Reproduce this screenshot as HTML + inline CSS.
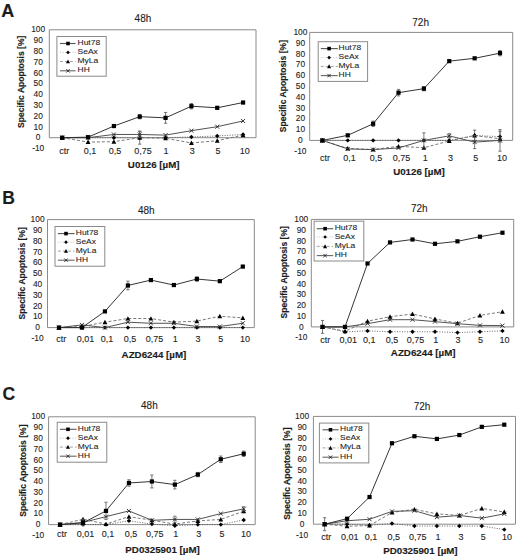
<!DOCTYPE html>
<html><head><meta charset="utf-8"><title>Figure</title>
<style>
html,body{margin:0;padding:0;background:#fff;}
body{width:520px;height:560px;overflow:hidden;}
svg{display:block;}
svg text{font-family:"Liberation Sans", sans-serif;fill:#1c1c1c;stroke:#1c1c1c;stroke-width:0.1px;}
svg text[font-weight=bold]{stroke-width:0.15px;}
</style></head>
<body>
<svg width="520" height="560" viewBox="0 0 520 560">
<rect width="520" height="560" fill="#fff"/>
<path d="M49.3 137.7V29.8H256V137.7" fill="none" stroke="#8a8a8a" stroke-width="1"/>
<path d="M49.3 137.7H256" stroke="#8a8a8a" stroke-width="1"/>
<text x="38.2" y="151.12" text-anchor="middle" font-size="8.4">-10</text>
<text x="38.2" y="140.33" text-anchor="middle" font-size="8.4">0</text>
<text x="38.2" y="129.54" text-anchor="middle" font-size="8.4">10</text>
<text x="38.2" y="118.75" text-anchor="middle" font-size="8.4">20</text>
<text x="38.2" y="107.96" text-anchor="middle" font-size="8.4">30</text>
<text x="38.2" y="97.17" text-anchor="middle" font-size="8.4">40</text>
<text x="38.2" y="86.38" text-anchor="middle" font-size="8.4">50</text>
<text x="38.2" y="75.59" text-anchor="middle" font-size="8.4">60</text>
<text x="38.2" y="64.8" text-anchor="middle" font-size="8.4">70</text>
<text x="38.2" y="54.01" text-anchor="middle" font-size="8.4">80</text>
<text x="38.2" y="43.22" text-anchor="middle" font-size="8.4">90</text>
<text x="38.2" y="32.43" text-anchor="middle" font-size="8.4">100</text>
<text transform="translate(24.2 81.8) rotate(-90)" text-anchor="middle" font-size="8.55" font-weight="bold">Specific Apoptosis [%]</text>
<text x="64.2" y="153.94" text-anchor="middle" font-size="9.0">ctr</text>
<text x="90" y="153.94" text-anchor="middle" font-size="9.0">0,1</text>
<text x="115.1" y="153.94" text-anchor="middle" font-size="9.0">0,5</text>
<text x="142.9" y="153.94" text-anchor="middle" font-size="9.0">0,75</text>
<text x="166.1" y="153.94" text-anchor="middle" font-size="9.0">1</text>
<text x="192.2" y="153.94" text-anchor="middle" font-size="9.0">3</text>
<text x="217.9" y="153.94" text-anchor="middle" font-size="9.0">5</text>
<text x="244.75" y="153.94" text-anchor="middle" font-size="9.0">10</text>
<text x="153.7" y="167.7" text-anchor="middle" font-size="9.75" font-weight="bold">U0126 [µM]</text>
<text x="142.95" y="22.3" text-anchor="middle" font-size="10.0">48h</text>
<polyline points="62.22,137.7 88.06,137.7 113.89,137.7 139.73,137.7 165.57,137.7 191.41,136.94 217.24,135.97 243.08,134.46" fill="none" stroke="#555" stroke-width="0.9" stroke-dasharray="1 1.5"/>
<path d="M62.22 135.5L64.42 137.7L62.22 139.9L60.02 137.7Z" fill="#000"/>
<path d="M88.06 135.5L90.26 137.7L88.06 139.9L85.86 137.7Z" fill="#000"/>
<path d="M113.89 135.5L116.09 137.7L113.89 139.9L111.69 137.7Z" fill="#000"/>
<path d="M139.73 135.5L141.93 137.7L139.73 139.9L137.53 137.7Z" fill="#000"/>
<path d="M165.57 135.5L167.77 137.7L165.57 139.9L163.37 137.7Z" fill="#000"/>
<path d="M191.41 134.74L193.61 136.94L191.41 139.14L189.21 136.94Z" fill="#000"/>
<path d="M217.24 133.77L219.44 135.97L217.24 138.17L215.04 135.97Z" fill="#000"/>
<path d="M243.08 132.26L245.28 134.46L243.08 136.66L240.88 134.46Z" fill="#000"/>
<polyline points="62.22,137.7 88.06,142.02 113.89,141.69 139.73,137.7 165.57,138.24 191.41,142.99 217.24,140.72 243.08,135.11" fill="none" stroke="#6a6a6a" stroke-width="0.9" stroke-dasharray="3 2"/>
<path d="M139.73 131.23V144.17M138.13 131.23H141.33M138.13 144.17H141.33" stroke="#555" stroke-width="0.8" fill="none"/>
<path d="M62.22 135.3L64.62 139.74L59.82 139.74Z" fill="#000"/>
<path d="M88.06 139.62L90.46 144.06L85.66 144.06Z" fill="#000"/>
<path d="M113.89 139.29L116.29 143.73L111.49 143.73Z" fill="#000"/>
<path d="M139.73 135.3L142.13 139.74L137.33 139.74Z" fill="#000"/>
<path d="M165.57 135.84L167.97 140.28L163.17 140.28Z" fill="#000"/>
<path d="M191.41 140.59L193.81 145.03L189.01 145.03Z" fill="#000"/>
<path d="M217.24 138.32L219.64 142.76L214.84 142.76Z" fill="#000"/>
<path d="M243.08 132.71L245.48 137.15L240.68 137.15Z" fill="#000"/>
<polyline points="62.22,137.7 88.06,137.7 113.89,134.46 139.73,134.46 165.57,135.11 191.41,130.69 217.24,126.69 243.08,120.98" fill="none" stroke="#4a4a4a" stroke-width="0.95"/>
<path d="M139.73 131.23V137.7M138.13 131.23H141.33M138.13 137.7H141.33" stroke="#555" stroke-width="0.8" fill="none"/>
<path d="M60.22 135.7L64.22 139.7M64.22 135.7L60.22 139.7" stroke="#222" stroke-width="0.9"/>
<path d="M86.06 135.7L90.06 139.7M90.06 135.7L86.06 139.7" stroke="#222" stroke-width="0.9"/>
<path d="M111.89 132.46L115.89 136.46M115.89 132.46L111.89 136.46" stroke="#222" stroke-width="0.9"/>
<path d="M137.73 132.46L141.73 136.46M141.73 132.46L137.73 136.46" stroke="#222" stroke-width="0.9"/>
<path d="M163.57 133.11L167.57 137.11M167.57 133.11L163.57 137.11" stroke="#222" stroke-width="0.9"/>
<path d="M189.41 128.69L193.41 132.69M193.41 128.69L189.41 132.69" stroke="#222" stroke-width="0.9"/>
<path d="M215.24 124.69L219.24 128.69M219.24 124.69L215.24 128.69" stroke="#222" stroke-width="0.9"/>
<path d="M241.08 118.98L245.08 122.98M245.08 118.98L241.08 122.98" stroke="#222" stroke-width="0.9"/>
<polyline points="62.22,137.7 88.06,137.16 113.89,126.05 139.73,116.66 165.57,117.85 191.41,106.19 217.24,107.81 243.08,102.52" fill="none" stroke="#2a2a2a" stroke-width="0.95"/>
<path d="M139.73 114.5V118.82M138.13 114.5H141.33M138.13 118.82H141.33" stroke="#555" stroke-width="0.8" fill="none"/>
<path d="M165.57 112.45V123.24M163.97 112.45H167.17M163.97 123.24H167.17" stroke="#555" stroke-width="0.8" fill="none"/>
<path d="M191.41 103.5V108.89M189.81 103.5H193.01M189.81 108.89H193.01" stroke="#555" stroke-width="0.8" fill="none"/>
<path d="M217.24 106.73V108.89M215.64 106.73H218.84M215.64 108.89H218.84" stroke="#555" stroke-width="0.8" fill="none"/>
<path d="M243.08 101.45V103.6M241.48 101.45H244.68M241.48 103.6H244.68" stroke="#555" stroke-width="0.8" fill="none"/>
<rect x="60.12" y="135.6" width="4.2" height="4.2" fill="#000"/>
<rect x="85.96" y="135.06" width="4.2" height="4.2" fill="#000"/>
<rect x="111.79" y="123.95" width="4.2" height="4.2" fill="#000"/>
<rect x="137.63" y="114.56" width="4.2" height="4.2" fill="#000"/>
<rect x="163.47" y="115.75" width="4.2" height="4.2" fill="#000"/>
<rect x="189.31" y="104.09" width="4.2" height="4.2" fill="#000"/>
<rect x="215.14" y="105.71" width="4.2" height="4.2" fill="#000"/>
<rect x="240.98" y="100.42" width="4.2" height="4.2" fill="#000"/>
<rect x="56.9" y="36.5" width="49.3" height="39.7" fill="#fff" stroke="#8a8a8a" stroke-width="1"/>
<path d="M60 43.5H75.6" stroke="#555" stroke-width="1.1"/>
<rect x="66.22" y="41.72" width="3.57" height="3.57" fill="#000"/>
<text transform="translate(77.6 45.05) scale(1 0.9)" font-size="8.45">Hut78</text>
<path d="M60 52.4H75.6" stroke="#bbb" stroke-width="0.9" stroke-dasharray="1 1.5"/>
<path d="M68 50.53L69.87 52.4L68 54.27L66.13 52.4Z" fill="#000"/>
<text transform="translate(77.6 53.95) scale(1 0.9)" font-size="8.45">SeAx</text>
<path d="M60 61.5H75.6" stroke="#999" stroke-width="0.9" stroke-dasharray="3 2"/>
<path d="M68 59.46L70.04 63.23L65.96 63.23Z" fill="#000"/>
<text transform="translate(77.6 63.05) scale(1 0.9)" font-size="8.45">MyLa</text>
<path d="M60 70.8H75.6" stroke="#666" stroke-width="1.1"/>
<path d="M66.3 69.1L69.7 72.5M69.7 69.1L66.3 72.5" stroke="#222" stroke-width="0.9"/>
<text transform="translate(77.6 72.35) scale(1 0.9)" font-size="8.45">HH</text>
<path d="M309.7 140.4V32.4H512.7V140.4" fill="none" stroke="#8a8a8a" stroke-width="1"/>
<path d="M309.7 140.4H512.7" stroke="#8a8a8a" stroke-width="1"/>
<text x="300.4" y="153.83" text-anchor="middle" font-size="8.4">-10</text>
<text x="300.4" y="143.03" text-anchor="middle" font-size="8.4">0</text>
<text x="300.4" y="132.23" text-anchor="middle" font-size="8.4">10</text>
<text x="300.4" y="121.43" text-anchor="middle" font-size="8.4">20</text>
<text x="300.4" y="110.63" text-anchor="middle" font-size="8.4">30</text>
<text x="300.4" y="99.83" text-anchor="middle" font-size="8.4">40</text>
<text x="300.4" y="89.03" text-anchor="middle" font-size="8.4">50</text>
<text x="300.4" y="78.23" text-anchor="middle" font-size="8.4">60</text>
<text x="300.4" y="67.43" text-anchor="middle" font-size="8.4">70</text>
<text x="300.4" y="56.63" text-anchor="middle" font-size="8.4">80</text>
<text x="300.4" y="45.83" text-anchor="middle" font-size="8.4">90</text>
<text x="300.4" y="35.03" text-anchor="middle" font-size="8.4">100</text>
<text transform="translate(286.3 86.15) rotate(-90)" text-anchor="middle" font-size="8.55" font-weight="bold">Specific Apoptosis [%]</text>
<text x="325" y="161.14" text-anchor="middle" font-size="9.0">ctr</text>
<text x="349.6" y="161.14" text-anchor="middle" font-size="9.0">0,1</text>
<text x="376.1" y="161.14" text-anchor="middle" font-size="9.0">0,5</text>
<text x="401.4" y="161.14" text-anchor="middle" font-size="9.0">0,75</text>
<text x="425.2" y="161.14" text-anchor="middle" font-size="9.0">1</text>
<text x="450.6" y="161.14" text-anchor="middle" font-size="9.0">3</text>
<text x="475.8" y="161.14" text-anchor="middle" font-size="9.0">5</text>
<text x="502.1" y="161.14" text-anchor="middle" font-size="9.0">10</text>
<text x="419" y="175.4" text-anchor="middle" font-size="9.75" font-weight="bold">U0126 [µM]</text>
<text x="420.65" y="25.6" text-anchor="middle" font-size="10.0">72h</text>
<polyline points="322.39,140.4 347.76,140.4 373.14,140.4 398.51,140.4 423.89,140.4 449.26,140.4 474.64,135.54 500.01,136.62" fill="none" stroke="#555" stroke-width="0.9" stroke-dasharray="1 1.5"/>
<path d="M474.64 130.14V140.94M473.04 130.14H476.24M473.04 140.94H476.24" stroke="#555" stroke-width="0.8" fill="none"/>
<path d="M500.01 131.22V142.02M498.41 131.22H501.61M498.41 142.02H501.61" stroke="#555" stroke-width="0.8" fill="none"/>
<path d="M322.39 138.2L324.59 140.4L322.39 142.6L320.19 140.4Z" fill="#000"/>
<path d="M347.76 138.2L349.96 140.4L347.76 142.6L345.56 140.4Z" fill="#000"/>
<path d="M373.14 138.2L375.34 140.4L373.14 142.6L370.94 140.4Z" fill="#000"/>
<path d="M398.51 138.2L400.71 140.4L398.51 142.6L396.31 140.4Z" fill="#000"/>
<path d="M423.89 138.2L426.09 140.4L423.89 142.6L421.69 140.4Z" fill="#000"/>
<path d="M449.26 138.2L451.46 140.4L449.26 142.6L447.06 140.4Z" fill="#000"/>
<path d="M474.64 133.34L476.84 135.54L474.64 137.74L472.44 135.54Z" fill="#000"/>
<path d="M500.01 134.42L502.21 136.62L500.01 138.82L497.81 136.62Z" fill="#000"/>
<polyline points="322.39,140.4 347.76,148.5 373.14,149.58 398.51,146.34 423.89,147.74 449.26,140.94 474.64,135.54 500.01,138.78" fill="none" stroke="#6a6a6a" stroke-width="0.9" stroke-dasharray="3 2"/>
<path d="M322.39 138L324.79 142.44L319.99 142.44Z" fill="#000"/>
<path d="M347.76 146.1L350.16 150.54L345.36 150.54Z" fill="#000"/>
<path d="M373.14 147.18L375.54 151.62L370.74 151.62Z" fill="#000"/>
<path d="M398.51 143.94L400.91 148.38L396.11 148.38Z" fill="#000"/>
<path d="M423.89 145.34L426.29 149.78L421.49 149.78Z" fill="#000"/>
<path d="M449.26 138.54L451.66 142.98L446.86 142.98Z" fill="#000"/>
<path d="M474.64 133.14L477.04 137.58L472.24 137.58Z" fill="#000"/>
<path d="M500.01 136.38L502.41 140.82L497.61 140.82Z" fill="#000"/>
<polyline points="322.39,140.4 347.76,148.93 373.14,149.58 398.51,147.96 423.89,140.4 449.26,135.86 474.64,142.13 500.01,140.4" fill="none" stroke="#4a4a4a" stroke-width="0.95"/>
<path d="M423.89 132.84V147.96M422.29 132.84H425.49M422.29 147.96H425.49" stroke="#555" stroke-width="0.8" fill="none"/>
<path d="M449.26 133.7V138.02M447.66 133.7H450.86M447.66 138.02H450.86" stroke="#555" stroke-width="0.8" fill="none"/>
<path d="M474.64 135.65V148.61M473.04 135.65H476.24M473.04 148.61H476.24" stroke="#555" stroke-width="0.8" fill="none"/>
<path d="M500.01 129.6V151.2M498.41 129.6H501.61M498.41 151.2H501.61" stroke="#555" stroke-width="0.8" fill="none"/>
<path d="M320.39 138.4L324.39 142.4M324.39 138.4L320.39 142.4" stroke="#222" stroke-width="0.9"/>
<path d="M345.76 146.93L349.76 150.93M349.76 146.93L345.76 150.93" stroke="#222" stroke-width="0.9"/>
<path d="M371.14 147.58L375.14 151.58M375.14 147.58L371.14 151.58" stroke="#222" stroke-width="0.9"/>
<path d="M396.51 145.96L400.51 149.96M400.51 145.96L396.51 149.96" stroke="#222" stroke-width="0.9"/>
<path d="M421.89 138.4L425.89 142.4M425.89 138.4L421.89 142.4" stroke="#222" stroke-width="0.9"/>
<path d="M447.26 133.86L451.26 137.86M451.26 133.86L447.26 137.86" stroke="#222" stroke-width="0.9"/>
<path d="M472.64 140.13L476.64 144.13M476.64 140.13L472.64 144.13" stroke="#222" stroke-width="0.9"/>
<path d="M498.01 138.4L502.01 142.4M502.01 138.4L498.01 142.4" stroke="#222" stroke-width="0.9"/>
<polyline points="322.39,140.4 347.76,135.32 373.14,123.77 398.51,92.66 423.89,88.67 449.26,61.13 474.64,58.32 500.01,53.14" fill="none" stroke="#2a2a2a" stroke-width="0.95"/>
<path d="M373.14 121.07V126.47M371.54 121.07H374.74M371.54 126.47H374.74" stroke="#555" stroke-width="0.8" fill="none"/>
<path d="M398.51 89.42V95.9M396.91 89.42H400.11M396.91 95.9H400.11" stroke="#555" stroke-width="0.8" fill="none"/>
<path d="M423.89 86.51V90.83M422.29 86.51H425.49M422.29 90.83H425.49" stroke="#555" stroke-width="0.8" fill="none"/>
<path d="M500.01 50.44V55.84M498.41 50.44H501.61M498.41 55.84H501.61" stroke="#555" stroke-width="0.8" fill="none"/>
<rect x="320.29" y="138.3" width="4.2" height="4.2" fill="#000"/>
<rect x="345.66" y="133.22" width="4.2" height="4.2" fill="#000"/>
<rect x="371.04" y="121.67" width="4.2" height="4.2" fill="#000"/>
<rect x="396.41" y="90.56" width="4.2" height="4.2" fill="#000"/>
<rect x="421.79" y="86.57" width="4.2" height="4.2" fill="#000"/>
<rect x="447.16" y="59.03" width="4.2" height="4.2" fill="#000"/>
<rect x="472.54" y="56.22" width="4.2" height="4.2" fill="#000"/>
<rect x="497.91" y="51.04" width="4.2" height="4.2" fill="#000"/>
<rect x="318.2" y="41.7" width="49.4" height="39.7" fill="#fff" stroke="#8a8a8a" stroke-width="1"/>
<path d="M320.8 48.6H337.8" stroke="#555" stroke-width="1.1"/>
<rect x="327.31" y="46.82" width="3.57" height="3.57" fill="#000"/>
<text transform="translate(338.6 50.15) scale(1 0.9)" font-size="8.45">Hut78</text>
<path d="M320.8 57.6H337.8" stroke="#bbb" stroke-width="0.9" stroke-dasharray="1 1.5"/>
<path d="M329.1 55.73L330.97 57.6L329.1 59.47L327.23 57.6Z" fill="#000"/>
<text transform="translate(338.6 59.15) scale(1 0.9)" font-size="8.45">SeAx</text>
<path d="M320.8 66.4H337.8" stroke="#999" stroke-width="0.9" stroke-dasharray="3 2"/>
<path d="M329.1 64.36L331.14 68.13L327.06 68.13Z" fill="#000"/>
<text transform="translate(338.6 67.95) scale(1 0.9)" font-size="8.45">MyLa</text>
<path d="M320.8 75.6H337.8" stroke="#666" stroke-width="1.1"/>
<path d="M327.4 73.9L330.8 77.3M330.8 73.9L327.4 77.3" stroke="#222" stroke-width="0.9"/>
<text transform="translate(338.6 77.15) scale(1 0.9)" font-size="8.45">HH</text>
<path d="M47.5 327.6V219.6H254.3V327.6" fill="none" stroke="#8a8a8a" stroke-width="1"/>
<path d="M47.5 327.6H254.3" stroke="#8a8a8a" stroke-width="1"/>
<text x="37.6" y="341.03" text-anchor="middle" font-size="8.4">-10</text>
<text x="37.6" y="330.23" text-anchor="middle" font-size="8.4">0</text>
<text x="37.6" y="319.43" text-anchor="middle" font-size="8.4">10</text>
<text x="37.6" y="308.63" text-anchor="middle" font-size="8.4">20</text>
<text x="37.6" y="297.83" text-anchor="middle" font-size="8.4">30</text>
<text x="37.6" y="287.03" text-anchor="middle" font-size="8.4">40</text>
<text x="37.6" y="276.23" text-anchor="middle" font-size="8.4">50</text>
<text x="37.6" y="265.43" text-anchor="middle" font-size="8.4">60</text>
<text x="37.6" y="254.63" text-anchor="middle" font-size="8.4">70</text>
<text x="37.6" y="243.83" text-anchor="middle" font-size="8.4">80</text>
<text x="37.6" y="233.03" text-anchor="middle" font-size="8.4">90</text>
<text x="37.6" y="222.23" text-anchor="middle" font-size="8.4">100</text>
<text transform="translate(25.4 273.3) rotate(-90)" text-anchor="middle" font-size="8.55" font-weight="bold">Specific Apoptosis [%]</text>
<text x="61.2" y="341.74" text-anchor="middle" font-size="9.0">ctr</text>
<text x="85.4" y="341.74" text-anchor="middle" font-size="9.0">0,01</text>
<text x="106.9" y="341.74" text-anchor="middle" font-size="9.0">0,1</text>
<text x="130" y="341.74" text-anchor="middle" font-size="9.0">0,5</text>
<text x="154.4" y="341.74" text-anchor="middle" font-size="9.0">0,75</text>
<text x="175.2" y="341.74" text-anchor="middle" font-size="9.0">1</text>
<text x="198.1" y="341.74" text-anchor="middle" font-size="9.0">3</text>
<text x="220.8" y="341.74" text-anchor="middle" font-size="9.0">5</text>
<text x="245" y="341.74" text-anchor="middle" font-size="9.0">10</text>
<text x="153.95" y="357.8" text-anchor="middle" font-size="9.75" font-weight="bold">AZD6244 [µM]</text>
<text x="146.25" y="213.8" text-anchor="middle" font-size="10.0">48h</text>
<polyline points="58.99,327.6 81.97,327.6 104.94,327.6 127.92,327.6 150.9,327.6 173.88,327.6 196.86,327.6 219.83,327.6 242.81,327.6" fill="none" stroke="#555" stroke-width="0.9" stroke-dasharray="1 1.5"/>
<path d="M58.99 325.4L61.19 327.6L58.99 329.8L56.79 327.6Z" fill="#000"/>
<path d="M81.97 325.4L84.17 327.6L81.97 329.8L79.77 327.6Z" fill="#000"/>
<path d="M104.94 325.4L107.14 327.6L104.94 329.8L102.74 327.6Z" fill="#000"/>
<path d="M127.92 325.4L130.12 327.6L127.92 329.8L125.72 327.6Z" fill="#000"/>
<path d="M150.9 325.4L153.1 327.6L150.9 329.8L148.7 327.6Z" fill="#000"/>
<path d="M173.88 325.4L176.08 327.6L173.88 329.8L171.68 327.6Z" fill="#000"/>
<path d="M196.86 325.4L199.06 327.6L196.86 329.8L194.66 327.6Z" fill="#000"/>
<path d="M219.83 325.4L222.03 327.6L219.83 329.8L217.63 327.6Z" fill="#000"/>
<path d="M242.81 325.4L245.01 327.6L242.81 329.8L240.61 327.6Z" fill="#000"/>
<polyline points="58.99,327.6 81.97,326.52 104.94,322.2 127.92,318.53 150.9,318.53 173.88,322.2 196.86,321.12 219.83,316.26 242.81,317.88" fill="none" stroke="#6a6a6a" stroke-width="0.9" stroke-dasharray="3 2"/>
<path d="M58.99 325.2L61.39 329.64L56.59 329.64Z" fill="#000"/>
<path d="M81.97 324.12L84.37 328.56L79.57 328.56Z" fill="#000"/>
<path d="M104.94 319.8L107.34 324.24L102.54 324.24Z" fill="#000"/>
<path d="M127.92 316.13L130.32 320.57L125.52 320.57Z" fill="#000"/>
<path d="M150.9 316.13L153.3 320.57L148.5 320.57Z" fill="#000"/>
<path d="M173.88 319.8L176.28 324.24L171.48 324.24Z" fill="#000"/>
<path d="M196.86 318.72L199.26 323.16L194.46 323.16Z" fill="#000"/>
<path d="M219.83 313.86L222.23 318.3L217.43 318.3Z" fill="#000"/>
<path d="M242.81 315.48L245.21 319.92L240.41 319.92Z" fill="#000"/>
<polyline points="58.99,327.6 81.97,324.9 104.94,327.6 127.92,322.2 150.9,323.28 173.88,323.28 196.86,326.52 219.83,326.52 242.81,323.28" fill="none" stroke="#4a4a4a" stroke-width="0.95"/>
<path d="M56.99 325.6L60.99 329.6M60.99 325.6L56.99 329.6" stroke="#222" stroke-width="0.9"/>
<path d="M79.97 322.9L83.97 326.9M83.97 322.9L79.97 326.9" stroke="#222" stroke-width="0.9"/>
<path d="M102.94 325.6L106.94 329.6M106.94 325.6L102.94 329.6" stroke="#222" stroke-width="0.9"/>
<path d="M125.92 320.2L129.92 324.2M129.92 320.2L125.92 324.2" stroke="#222" stroke-width="0.9"/>
<path d="M148.9 321.28L152.9 325.28M152.9 321.28L148.9 325.28" stroke="#222" stroke-width="0.9"/>
<path d="M171.88 321.28L175.88 325.28M175.88 321.28L171.88 325.28" stroke="#222" stroke-width="0.9"/>
<path d="M194.86 324.52L198.86 328.52M198.86 324.52L194.86 328.52" stroke="#222" stroke-width="0.9"/>
<path d="M217.83 324.52L221.83 328.52M221.83 324.52L217.83 328.52" stroke="#222" stroke-width="0.9"/>
<path d="M240.81 321.28L244.81 325.28M244.81 321.28L240.81 325.28" stroke="#222" stroke-width="0.9"/>
<polyline points="58.99,327.6 81.97,327.6 104.94,311.4 127.92,285.48 150.9,280.08 173.88,285.05 196.86,279 219.83,281.16 242.81,266.58" fill="none" stroke="#2a2a2a" stroke-width="0.95"/>
<path d="M127.92 281.16V289.8M126.32 281.16H129.52M126.32 289.8H129.52" stroke="#555" stroke-width="0.8" fill="none"/>
<path d="M196.86 276.84V281.16M195.26 276.84H198.46M195.26 281.16H198.46" stroke="#555" stroke-width="0.8" fill="none"/>
<rect x="56.89" y="325.5" width="4.2" height="4.2" fill="#000"/>
<rect x="79.87" y="325.5" width="4.2" height="4.2" fill="#000"/>
<rect x="102.84" y="309.3" width="4.2" height="4.2" fill="#000"/>
<rect x="125.82" y="283.38" width="4.2" height="4.2" fill="#000"/>
<rect x="148.8" y="277.98" width="4.2" height="4.2" fill="#000"/>
<rect x="171.78" y="282.95" width="4.2" height="4.2" fill="#000"/>
<rect x="194.76" y="276.9" width="4.2" height="4.2" fill="#000"/>
<rect x="217.73" y="279.06" width="4.2" height="4.2" fill="#000"/>
<rect x="240.71" y="264.48" width="4.2" height="4.2" fill="#000"/>
<rect x="55" y="226.5" width="49.8" height="39.7" fill="#fff" stroke="#8a8a8a" stroke-width="1"/>
<path d="M57.9 233.6H74.6" stroke="#555" stroke-width="1.1"/>
<rect x="64.22" y="231.81" width="3.57" height="3.57" fill="#000"/>
<text transform="translate(75.8 235.15) scale(1 0.9)" font-size="8.45">Hut78</text>
<path d="M57.9 242.2H74.6" stroke="#bbb" stroke-width="0.9" stroke-dasharray="1 1.5"/>
<path d="M66 240.33L67.87 242.2L66 244.07L64.13 242.2Z" fill="#000"/>
<text transform="translate(75.8 243.75) scale(1 0.9)" font-size="8.45">SeAx</text>
<path d="M57.9 251.1H74.6" stroke="#999" stroke-width="0.9" stroke-dasharray="3 2"/>
<path d="M66 249.06L68.04 252.83L63.96 252.83Z" fill="#000"/>
<text transform="translate(75.8 252.65) scale(1 0.9)" font-size="8.45">MyLa</text>
<path d="M57.9 260.2H74.6" stroke="#666" stroke-width="1.1"/>
<path d="M64.3 258.5L67.7 261.9M67.7 258.5L64.3 261.9" stroke="#222" stroke-width="0.9"/>
<text transform="translate(75.8 261.75) scale(1 0.9)" font-size="8.45">HH</text>
<path d="M311.3 326.9V219.4H513.7V326.9" fill="none" stroke="#8a8a8a" stroke-width="1"/>
<path d="M311.3 326.9H513.7" stroke="#8a8a8a" stroke-width="1"/>
<text x="301.3" y="340.28" text-anchor="middle" font-size="8.4">-10</text>
<text x="301.3" y="329.53" text-anchor="middle" font-size="8.4">0</text>
<text x="301.3" y="318.78" text-anchor="middle" font-size="8.4">10</text>
<text x="301.3" y="308.03" text-anchor="middle" font-size="8.4">20</text>
<text x="301.3" y="297.28" text-anchor="middle" font-size="8.4">30</text>
<text x="301.3" y="286.53" text-anchor="middle" font-size="8.4">40</text>
<text x="301.3" y="275.78" text-anchor="middle" font-size="8.4">50</text>
<text x="301.3" y="265.03" text-anchor="middle" font-size="8.4">60</text>
<text x="301.3" y="254.28" text-anchor="middle" font-size="8.4">70</text>
<text x="301.3" y="243.53" text-anchor="middle" font-size="8.4">80</text>
<text x="301.3" y="232.78" text-anchor="middle" font-size="8.4">90</text>
<text x="301.3" y="222.03" text-anchor="middle" font-size="8.4">100</text>
<text transform="translate(287 272.3) rotate(-90)" text-anchor="middle" font-size="8.55" font-weight="bold">Specific Apoptosis [%]</text>
<text x="325.2" y="342.84" text-anchor="middle" font-size="9.0">ctr</text>
<text x="348.2" y="342.84" text-anchor="middle" font-size="9.0">0,01</text>
<text x="369.3" y="342.84" text-anchor="middle" font-size="9.0">0,1</text>
<text x="392.1" y="342.84" text-anchor="middle" font-size="9.0">0,5</text>
<text x="415.4" y="342.84" text-anchor="middle" font-size="9.0">0,75</text>
<text x="435.8" y="342.84" text-anchor="middle" font-size="9.0">1</text>
<text x="458.1" y="342.84" text-anchor="middle" font-size="9.0">3</text>
<text x="480.6" y="342.84" text-anchor="middle" font-size="9.0">5</text>
<text x="504.4" y="342.84" text-anchor="middle" font-size="9.0">10</text>
<text x="423.2" y="356.1" text-anchor="middle" font-size="9.75" font-weight="bold">AZD6244 [µM]</text>
<text x="419.3" y="211.9" text-anchor="middle" font-size="10.0">72h</text>
<polyline points="322.54,326.9 345.03,331.84 367.52,330.88 390.01,331.74 412.5,331.74 434.99,331.74 457.48,332.6 479.97,331.74 502.46,330.88" fill="none" stroke="#555" stroke-width="0.9" stroke-dasharray="1 1.5"/>
<path d="M322.54 324.7L324.74 326.9L322.54 329.1L320.34 326.9Z" fill="#000"/>
<path d="M345.03 329.64L347.23 331.84L345.03 334.04L342.83 331.84Z" fill="#000"/>
<path d="M367.52 328.68L369.72 330.88L367.52 333.08L365.32 330.88Z" fill="#000"/>
<path d="M390.01 329.54L392.21 331.74L390.01 333.94L387.81 331.74Z" fill="#000"/>
<path d="M412.5 329.54L414.7 331.74L412.5 333.94L410.3 331.74Z" fill="#000"/>
<path d="M434.99 329.54L437.19 331.74L434.99 333.94L432.79 331.74Z" fill="#000"/>
<path d="M457.48 330.4L459.68 332.6L457.48 334.8L455.28 332.6Z" fill="#000"/>
<path d="M479.97 329.54L482.17 331.74L479.97 333.94L477.77 331.74Z" fill="#000"/>
<path d="M502.46 328.68L504.66 330.88L502.46 333.08L500.26 330.88Z" fill="#000"/>
<polyline points="322.54,326.9 345.03,331.2 367.52,321.2 390.01,316.69 412.5,314 434.99,318.94 457.48,323.25 479.97,315.4 502.46,311.74" fill="none" stroke="#6a6a6a" stroke-width="0.9" stroke-dasharray="3 2"/>
<path d="M322.54 324.5L324.94 328.94L320.14 328.94Z" fill="#000"/>
<path d="M345.03 328.8L347.43 333.24L342.63 333.24Z" fill="#000"/>
<path d="M367.52 318.8L369.92 323.24L365.12 323.24Z" fill="#000"/>
<path d="M390.01 314.29L392.41 318.73L387.61 318.73Z" fill="#000"/>
<path d="M412.5 311.6L414.9 316.04L410.1 316.04Z" fill="#000"/>
<path d="M434.99 316.55L437.39 320.99L432.59 320.99Z" fill="#000"/>
<path d="M457.48 320.85L459.88 325.29L455.08 325.29Z" fill="#000"/>
<path d="M479.97 313L482.37 317.44L477.57 317.44Z" fill="#000"/>
<path d="M502.46 309.34L504.86 313.78L500.06 313.78Z" fill="#000"/>
<polyline points="322.54,326.9 345.03,326.9 367.52,323.67 390.01,319.7 412.5,319.7 434.99,321.63 457.48,323.67 479.97,325.39 502.46,325.61" fill="none" stroke="#4a4a4a" stroke-width="0.95"/>
<path d="M320.54 324.9L324.54 328.9M324.54 324.9L320.54 328.9" stroke="#222" stroke-width="0.9"/>
<path d="M343.03 324.9L347.03 328.9M347.03 324.9L343.03 328.9" stroke="#222" stroke-width="0.9"/>
<path d="M365.52 321.67L369.52 325.67M369.52 321.67L365.52 325.67" stroke="#222" stroke-width="0.9"/>
<path d="M388.01 317.7L392.01 321.7M392.01 317.7L388.01 321.7" stroke="#222" stroke-width="0.9"/>
<path d="M410.5 317.7L414.5 321.7M414.5 317.7L410.5 321.7" stroke="#222" stroke-width="0.9"/>
<path d="M432.99 319.63L436.99 323.63M436.99 319.63L432.99 323.63" stroke="#222" stroke-width="0.9"/>
<path d="M455.48 321.67L459.48 325.67M459.48 321.67L455.48 325.67" stroke="#222" stroke-width="0.9"/>
<path d="M477.97 323.39L481.97 327.39M481.97 323.39L477.97 327.39" stroke="#222" stroke-width="0.9"/>
<path d="M500.46 323.61L504.46 327.61M504.46 323.61L500.46 327.61" stroke="#222" stroke-width="0.9"/>
<polyline points="322.54,326.9 345.03,326.9 367.52,263.48 390.01,242.41 412.5,239.5 434.99,243.8 457.48,241.33 479.97,236.71 502.46,232.73" fill="none" stroke="#2a2a2a" stroke-width="0.95"/>
<path d="M322.54 320.45V333.35M320.94 320.45H324.14M320.94 333.35H324.14" stroke="#555" stroke-width="0.8" fill="none"/>
<rect x="320.44" y="324.8" width="4.2" height="4.2" fill="#000"/>
<rect x="342.93" y="324.8" width="4.2" height="4.2" fill="#000"/>
<rect x="365.42" y="261.38" width="4.2" height="4.2" fill="#000"/>
<rect x="387.91" y="240.31" width="4.2" height="4.2" fill="#000"/>
<rect x="410.4" y="237.4" width="4.2" height="4.2" fill="#000"/>
<rect x="432.89" y="241.7" width="4.2" height="4.2" fill="#000"/>
<rect x="455.38" y="239.23" width="4.2" height="4.2" fill="#000"/>
<rect x="477.87" y="234.61" width="4.2" height="4.2" fill="#000"/>
<rect x="500.36" y="230.63" width="4.2" height="4.2" fill="#000"/>
<rect x="314.1" y="221.2" width="49.7" height="39.8" fill="#fff" stroke="#8a8a8a" stroke-width="1"/>
<path d="M316.7 228.7H333.2" stroke="#555" stroke-width="1.1"/>
<rect x="323.31" y="226.91" width="3.57" height="3.57" fill="#000"/>
<text transform="translate(334.7 230.25) scale(1 0.9)" font-size="8.45">Hut78</text>
<path d="M316.7 237H333.2" stroke="#bbb" stroke-width="0.9" stroke-dasharray="1 1.5"/>
<path d="M325.1 235.13L326.97 237L325.1 238.87L323.23 237Z" fill="#000"/>
<text transform="translate(334.7 238.55) scale(1 0.9)" font-size="8.45">SeAx</text>
<path d="M316.7 246.4H333.2" stroke="#999" stroke-width="0.9" stroke-dasharray="3 2"/>
<path d="M325.1 244.36L327.14 248.13L323.06 248.13Z" fill="#000"/>
<text transform="translate(334.7 247.95) scale(1 0.9)" font-size="8.45">MyLa</text>
<path d="M316.7 255.6H333.2" stroke="#666" stroke-width="1.1"/>
<path d="M323.4 253.9L326.8 257.3M326.8 253.9L323.4 257.3" stroke="#222" stroke-width="0.9"/>
<text transform="translate(334.7 257.15) scale(1 0.9)" font-size="8.45">HH</text>
<path d="M48.6 524.6V416.8H255.2V524.6" fill="none" stroke="#8a8a8a" stroke-width="1"/>
<path d="M48.6 524.6H255.2" stroke="#8a8a8a" stroke-width="1"/>
<text x="38.2" y="538.01" text-anchor="middle" font-size="8.4">-10</text>
<text x="38.2" y="527.23" text-anchor="middle" font-size="8.4">0</text>
<text x="38.2" y="516.45" text-anchor="middle" font-size="8.4">10</text>
<text x="38.2" y="505.67" text-anchor="middle" font-size="8.4">20</text>
<text x="38.2" y="494.89" text-anchor="middle" font-size="8.4">30</text>
<text x="38.2" y="484.11" text-anchor="middle" font-size="8.4">40</text>
<text x="38.2" y="473.33" text-anchor="middle" font-size="8.4">50</text>
<text x="38.2" y="462.55" text-anchor="middle" font-size="8.4">60</text>
<text x="38.2" y="451.77" text-anchor="middle" font-size="8.4">70</text>
<text x="38.2" y="440.99" text-anchor="middle" font-size="8.4">80</text>
<text x="38.2" y="430.21" text-anchor="middle" font-size="8.4">90</text>
<text x="38.2" y="419.43" text-anchor="middle" font-size="8.4">100</text>
<text transform="translate(26 470.65) rotate(-90)" text-anchor="middle" font-size="8.55" font-weight="bold">Specific Apoptosis [%]</text>
<text x="62" y="537.24" text-anchor="middle" font-size="9.0">ctr</text>
<text x="85.6" y="537.24" text-anchor="middle" font-size="9.0">0,01</text>
<text x="107.9" y="537.24" text-anchor="middle" font-size="9.0">0,1</text>
<text x="130.9" y="537.24" text-anchor="middle" font-size="9.0">0,5</text>
<text x="154.8" y="537.24" text-anchor="middle" font-size="9.0">0,75</text>
<text x="175.8" y="537.24" text-anchor="middle" font-size="9.0">1</text>
<text x="198.8" y="537.24" text-anchor="middle" font-size="9.0">3</text>
<text x="221.9" y="537.24" text-anchor="middle" font-size="9.0">5</text>
<text x="245.9" y="537.24" text-anchor="middle" font-size="9.0">10</text>
<text x="162.6" y="553.4" text-anchor="middle" font-size="9.75" font-weight="bold">PD0325901 [µM]</text>
<text x="149.4" y="409.3" text-anchor="middle" font-size="10.0">48h</text>
<polyline points="60.08,524.6 83.03,524.6 105.99,524.6 128.94,520.83 151.9,524.06 174.86,525.68 197.81,524.6 220.77,524.6 243.72,519.96" fill="none" stroke="#555" stroke-width="0.9" stroke-dasharray="1 1.5"/>
<path d="M60.08 522.4L62.28 524.6L60.08 526.8L57.88 524.6Z" fill="#000"/>
<path d="M83.03 522.4L85.23 524.6L83.03 526.8L80.83 524.6Z" fill="#000"/>
<path d="M105.99 522.4L108.19 524.6L105.99 526.8L103.79 524.6Z" fill="#000"/>
<path d="M128.94 518.63L131.14 520.83L128.94 523.03L126.74 520.83Z" fill="#000"/>
<path d="M151.9 521.86L154.1 524.06L151.9 526.26L149.7 524.06Z" fill="#000"/>
<path d="M174.86 523.48L177.06 525.68L174.86 527.88L172.66 525.68Z" fill="#000"/>
<path d="M197.81 522.4L200.01 524.6L197.81 526.8L195.61 524.6Z" fill="#000"/>
<path d="M220.77 522.4L222.97 524.6L220.77 526.8L218.57 524.6Z" fill="#000"/>
<path d="M243.72 517.76L245.92 519.96L243.72 522.16L241.52 519.96Z" fill="#000"/>
<polyline points="60.08,524.6 83.03,519.21 105.99,524.06 128.94,516.62 151.9,520.29 174.86,524.06 197.81,520.93 220.77,519.43 243.72,511.23" fill="none" stroke="#6a6a6a" stroke-width="0.9" stroke-dasharray="3 2"/>
<path d="M60.08 522.2L62.48 526.64L57.68 526.64Z" fill="#000"/>
<path d="M83.03 516.81L85.43 521.25L80.63 521.25Z" fill="#000"/>
<path d="M105.99 521.66L108.39 526.1L103.59 526.1Z" fill="#000"/>
<path d="M128.94 514.22L131.34 518.66L126.54 518.66Z" fill="#000"/>
<path d="M151.9 517.89L154.3 522.33L149.5 522.33Z" fill="#000"/>
<path d="M174.86 521.66L177.26 526.1L172.46 526.1Z" fill="#000"/>
<path d="M197.81 518.53L200.21 522.97L195.41 522.97Z" fill="#000"/>
<path d="M220.77 517.03L223.17 521.47L218.37 521.47Z" fill="#000"/>
<path d="M243.72 508.83L246.12 513.27L241.32 513.27Z" fill="#000"/>
<polyline points="60.08,524.6 83.03,522.44 105.99,516.62 128.94,510.91 151.9,520.29 174.86,519.43 197.81,519.43 220.77,513.6 243.72,508.86" fill="none" stroke="#4a4a4a" stroke-width="0.95"/>
<path d="M83.03 519.21V525.68M81.43 519.21H84.63M81.43 525.68H84.63" stroke="#555" stroke-width="0.8" fill="none"/>
<path d="M174.86 516.19V522.66M173.26 516.19H176.46M173.26 522.66H176.46" stroke="#555" stroke-width="0.8" fill="none"/>
<path d="M243.72 506.71V511.02M242.12 506.71H245.32M242.12 511.02H245.32" stroke="#555" stroke-width="0.8" fill="none"/>
<path d="M58.08 522.6L62.08 526.6M62.08 522.6L58.08 526.6" stroke="#222" stroke-width="0.9"/>
<path d="M81.03 520.44L85.03 524.44M85.03 520.44L81.03 524.44" stroke="#222" stroke-width="0.9"/>
<path d="M103.99 514.62L107.99 518.62M107.99 514.62L103.99 518.62" stroke="#222" stroke-width="0.9"/>
<path d="M126.94 508.91L130.94 512.91M130.94 508.91L126.94 512.91" stroke="#222" stroke-width="0.9"/>
<path d="M149.9 518.29L153.9 522.29M153.9 518.29L149.9 522.29" stroke="#222" stroke-width="0.9"/>
<path d="M172.86 517.43L176.86 521.43M176.86 517.43L172.86 521.43" stroke="#222" stroke-width="0.9"/>
<path d="M195.81 517.43L199.81 521.43M199.81 517.43L195.81 521.43" stroke="#222" stroke-width="0.9"/>
<path d="M218.77 511.6L222.77 515.6M222.77 511.6L218.77 515.6" stroke="#222" stroke-width="0.9"/>
<path d="M241.72 506.86L245.72 510.86M245.72 506.86L241.72 510.86" stroke="#222" stroke-width="0.9"/>
<polyline points="60.08,524.6 83.03,522.88 105.99,510.91 128.94,482.99 151.9,481.48 174.86,484.61 197.81,474.58 220.77,459.27 243.72,453.78" fill="none" stroke="#2a2a2a" stroke-width="0.95"/>
<path d="M105.99 502.29V519.53M104.39 502.29H107.59M104.39 519.53H107.59" stroke="#555" stroke-width="0.8" fill="none"/>
<path d="M128.94 479.76V486.22M127.34 479.76H130.54M127.34 486.22H130.54" stroke="#555" stroke-width="0.8" fill="none"/>
<path d="M151.9 475.01V487.95M150.3 475.01H153.5M150.3 487.95H153.5" stroke="#555" stroke-width="0.8" fill="none"/>
<path d="M174.86 480.29V488.92M173.26 480.29H176.46M173.26 488.92H176.46" stroke="#555" stroke-width="0.8" fill="none"/>
<path d="M197.81 472.42V476.74M196.21 472.42H199.41M196.21 476.74H199.41" stroke="#555" stroke-width="0.8" fill="none"/>
<path d="M220.77 456.04V462.51M219.17 456.04H222.37M219.17 462.51H222.37" stroke="#555" stroke-width="0.8" fill="none"/>
<path d="M243.72 451.08V456.47M242.12 451.08H245.32M242.12 456.47H245.32" stroke="#555" stroke-width="0.8" fill="none"/>
<rect x="57.98" y="522.5" width="4.2" height="4.2" fill="#000"/>
<rect x="80.93" y="520.78" width="4.2" height="4.2" fill="#000"/>
<rect x="103.89" y="508.81" width="4.2" height="4.2" fill="#000"/>
<rect x="126.84" y="480.89" width="4.2" height="4.2" fill="#000"/>
<rect x="149.8" y="479.38" width="4.2" height="4.2" fill="#000"/>
<rect x="172.76" y="482.51" width="4.2" height="4.2" fill="#000"/>
<rect x="195.71" y="472.48" width="4.2" height="4.2" fill="#000"/>
<rect x="218.67" y="457.17" width="4.2" height="4.2" fill="#000"/>
<rect x="241.62" y="451.68" width="4.2" height="4.2" fill="#000"/>
<rect x="57.2" y="422.3" width="49.6" height="39.9" fill="#fff" stroke="#8a8a8a" stroke-width="1"/>
<path d="M59.9 429.3H76.6" stroke="#555" stroke-width="1.1"/>
<rect x="66.22" y="427.51" width="3.57" height="3.57" fill="#000"/>
<text transform="translate(77.8 430.85) scale(1 0.9)" font-size="8.45">Hut78</text>
<path d="M59.9 438.2H76.6" stroke="#bbb" stroke-width="0.9" stroke-dasharray="1 1.5"/>
<path d="M68 436.33L69.87 438.2L68 440.07L66.13 438.2Z" fill="#000"/>
<text transform="translate(77.8 439.75) scale(1 0.9)" font-size="8.45">SeAx</text>
<path d="M59.9 447.1H76.6" stroke="#999" stroke-width="0.9" stroke-dasharray="3 2"/>
<path d="M68 445.06L70.04 448.83L65.96 448.83Z" fill="#000"/>
<text transform="translate(77.8 448.65) scale(1 0.9)" font-size="8.45">MyLa</text>
<path d="M59.9 456.2H76.6" stroke="#666" stroke-width="1.1"/>
<path d="M66.3 454.5L69.7 457.9M69.7 454.5L66.3 457.9" stroke="#222" stroke-width="0.9"/>
<text transform="translate(77.8 457.75) scale(1 0.9)" font-size="8.45">HH</text>
<path d="M313.4 524.2V416.4H515.5V524.2" fill="none" stroke="#8a8a8a" stroke-width="1"/>
<path d="M313.4 524.2H515.5" stroke="#8a8a8a" stroke-width="1"/>
<text x="302.1" y="537.61" text-anchor="middle" font-size="8.4">-10</text>
<text x="302.1" y="526.83" text-anchor="middle" font-size="8.4">0</text>
<text x="302.1" y="516.05" text-anchor="middle" font-size="8.4">10</text>
<text x="302.1" y="505.27" text-anchor="middle" font-size="8.4">20</text>
<text x="302.1" y="494.49" text-anchor="middle" font-size="8.4">30</text>
<text x="302.1" y="483.71" text-anchor="middle" font-size="8.4">40</text>
<text x="302.1" y="472.93" text-anchor="middle" font-size="8.4">50</text>
<text x="302.1" y="462.15" text-anchor="middle" font-size="8.4">60</text>
<text x="302.1" y="451.37" text-anchor="middle" font-size="8.4">70</text>
<text x="302.1" y="440.59" text-anchor="middle" font-size="8.4">80</text>
<text x="302.1" y="429.81" text-anchor="middle" font-size="8.4">90</text>
<text x="302.1" y="419.03" text-anchor="middle" font-size="8.4">100</text>
<text transform="translate(290 473.65) rotate(-90)" text-anchor="middle" font-size="8.55" font-weight="bold">Specific Apoptosis [%]</text>
<text x="326.2" y="540.24" text-anchor="middle" font-size="9.0">ctr</text>
<text x="349.7" y="540.24" text-anchor="middle" font-size="9.0">0,01</text>
<text x="371.1" y="540.24" text-anchor="middle" font-size="9.0">0,1</text>
<text x="393.8" y="540.24" text-anchor="middle" font-size="9.0">0,5</text>
<text x="417.7" y="540.24" text-anchor="middle" font-size="9.0">0,75</text>
<text x="438.1" y="540.24" text-anchor="middle" font-size="9.0">1</text>
<text x="461.1" y="540.24" text-anchor="middle" font-size="9.0">3</text>
<text x="483.3" y="540.24" text-anchor="middle" font-size="9.0">5</text>
<text x="507" y="540.24" text-anchor="middle" font-size="9.0">10</text>
<text x="420.4" y="554.3" text-anchor="middle" font-size="9.75" font-weight="bold">PD0325901 [µM]</text>
<text x="422" y="410.1" text-anchor="middle" font-size="10.0">72h</text>
<polyline points="324.63,524.2 347.08,524.2 369.54,525.28 391.99,523.55 414.45,526.03 436.91,526.03 459.36,526.03 481.82,526.03 504.27,529.59" fill="none" stroke="#555" stroke-width="0.9" stroke-dasharray="1 1.5"/>
<path d="M324.63 522L326.83 524.2L324.63 526.4L322.43 524.2Z" fill="#000"/>
<path d="M347.08 522L349.28 524.2L347.08 526.4L344.88 524.2Z" fill="#000"/>
<path d="M369.54 523.08L371.74 525.28L369.54 527.48L367.34 525.28Z" fill="#000"/>
<path d="M391.99 521.35L394.19 523.55L391.99 525.75L389.79 523.55Z" fill="#000"/>
<path d="M414.45 523.83L416.65 526.03L414.45 528.23L412.25 526.03Z" fill="#000"/>
<path d="M436.91 523.83L439.11 526.03L436.91 528.23L434.71 526.03Z" fill="#000"/>
<path d="M459.36 523.83L461.56 526.03L459.36 528.23L457.16 526.03Z" fill="#000"/>
<path d="M481.82 523.83L484.02 526.03L481.82 528.23L479.62 526.03Z" fill="#000"/>
<path d="M504.27 527.39L506.47 529.59L504.27 531.79L502.07 529.59Z" fill="#000"/>
<polyline points="324.63,524.2 347.08,526.25 369.54,525.49 391.99,512.45 414.45,509.32 436.91,513.85 459.36,515.47 481.82,508.46 504.27,512.02" fill="none" stroke="#6a6a6a" stroke-width="0.9" stroke-dasharray="3 2"/>
<path d="M324.63 521.8L327.03 526.24L322.23 526.24Z" fill="#000"/>
<path d="M347.08 523.85L349.48 528.29L344.68 528.29Z" fill="#000"/>
<path d="M369.54 523.09L371.94 527.53L367.14 527.53Z" fill="#000"/>
<path d="M391.99 510.05L394.39 514.49L389.59 514.49Z" fill="#000"/>
<path d="M414.45 506.92L416.85 511.36L412.05 511.36Z" fill="#000"/>
<path d="M436.91 511.45L439.31 515.89L434.51 515.89Z" fill="#000"/>
<path d="M459.36 513.07L461.76 517.51L456.96 517.51Z" fill="#000"/>
<path d="M481.82 506.06L484.22 510.5L479.42 510.5Z" fill="#000"/>
<path d="M504.27 509.62L506.67 514.06L501.87 514.06Z" fill="#000"/>
<polyline points="324.63,524.2 347.08,520.75 369.54,519.24 391.99,511.37 414.45,510.73 436.91,517.19 459.36,515.47 481.82,518.16 504.27,513.85" fill="none" stroke="#4a4a4a" stroke-width="0.95"/>
<path d="M322.63 522.2L326.63 526.2M326.63 522.2L322.63 526.2" stroke="#222" stroke-width="0.9"/>
<path d="M345.08 518.75L349.08 522.75M349.08 518.75L345.08 522.75" stroke="#222" stroke-width="0.9"/>
<path d="M367.54 517.24L371.54 521.24M371.54 517.24L367.54 521.24" stroke="#222" stroke-width="0.9"/>
<path d="M389.99 509.37L393.99 513.37M393.99 509.37L389.99 513.37" stroke="#222" stroke-width="0.9"/>
<path d="M412.45 508.73L416.45 512.73M416.45 508.73L412.45 512.73" stroke="#222" stroke-width="0.9"/>
<path d="M434.91 515.19L438.91 519.19M438.91 515.19L434.91 519.19" stroke="#222" stroke-width="0.9"/>
<path d="M457.36 513.47L461.36 517.47M461.36 513.47L457.36 517.47" stroke="#222" stroke-width="0.9"/>
<path d="M479.82 516.16L483.82 520.16M483.82 516.16L479.82 520.16" stroke="#222" stroke-width="0.9"/>
<path d="M502.27 511.85L506.27 515.85M506.27 511.85L502.27 515.85" stroke="#222" stroke-width="0.9"/>
<polyline points="324.63,524.2 347.08,518.7 369.54,497.03 391.99,443.24 414.45,436.24 436.91,438.93 459.36,435.05 481.82,426.86 504.27,424.7" fill="none" stroke="#2a2a2a" stroke-width="0.95"/>
<path d="M324.63 517.73V530.67M323.03 517.73H326.23M323.03 530.67H326.23" stroke="#555" stroke-width="0.8" fill="none"/>
<rect x="322.53" y="522.1" width="4.2" height="4.2" fill="#000"/>
<rect x="344.98" y="516.6" width="4.2" height="4.2" fill="#000"/>
<rect x="367.44" y="494.93" width="4.2" height="4.2" fill="#000"/>
<rect x="389.89" y="441.14" width="4.2" height="4.2" fill="#000"/>
<rect x="412.35" y="434.14" width="4.2" height="4.2" fill="#000"/>
<rect x="434.81" y="436.83" width="4.2" height="4.2" fill="#000"/>
<rect x="457.26" y="432.95" width="4.2" height="4.2" fill="#000"/>
<rect x="479.72" y="424.76" width="4.2" height="4.2" fill="#000"/>
<rect x="502.17" y="422.6" width="4.2" height="4.2" fill="#000"/>
<rect x="319.4" y="423.1" width="49.4" height="39.8" fill="#fff" stroke="#8a8a8a" stroke-width="1"/>
<path d="M322.5 429.8H338.6" stroke="#555" stroke-width="1.1"/>
<rect x="328.71" y="428.01" width="3.57" height="3.57" fill="#000"/>
<text transform="translate(340.1 431.35) scale(1 0.9)" font-size="8.45">Hut78</text>
<path d="M322.5 438.9H338.6" stroke="#bbb" stroke-width="0.9" stroke-dasharray="1 1.5"/>
<path d="M330.5 437.03L332.37 438.9L330.5 440.77L328.63 438.9Z" fill="#000"/>
<text transform="translate(340.1 440.45) scale(1 0.9)" font-size="8.45">SeAx</text>
<path d="M322.5 447.9H338.6" stroke="#999" stroke-width="0.9" stroke-dasharray="3 2"/>
<path d="M330.5 445.86L332.54 449.63L328.46 449.63Z" fill="#000"/>
<text transform="translate(340.1 449.45) scale(1 0.9)" font-size="8.45">MyLa</text>
<path d="M322.5 457.2H338.6" stroke="#666" stroke-width="1.1"/>
<path d="M328.8 455.5L332.2 458.9M332.2 455.5L328.8 458.9" stroke="#222" stroke-width="0.9"/>
<text transform="translate(340.1 458.75) scale(1 0.9)" font-size="8.45">HH</text>
<text x="1.3" y="17.1" font-size="18" font-weight="bold">A</text>
<text x="2.2" y="204.1" font-size="17.5" font-weight="bold">B</text>
<text x="2.6" y="399.8" font-size="17.5" font-weight="bold">C</text>
</svg>
</body></html>
